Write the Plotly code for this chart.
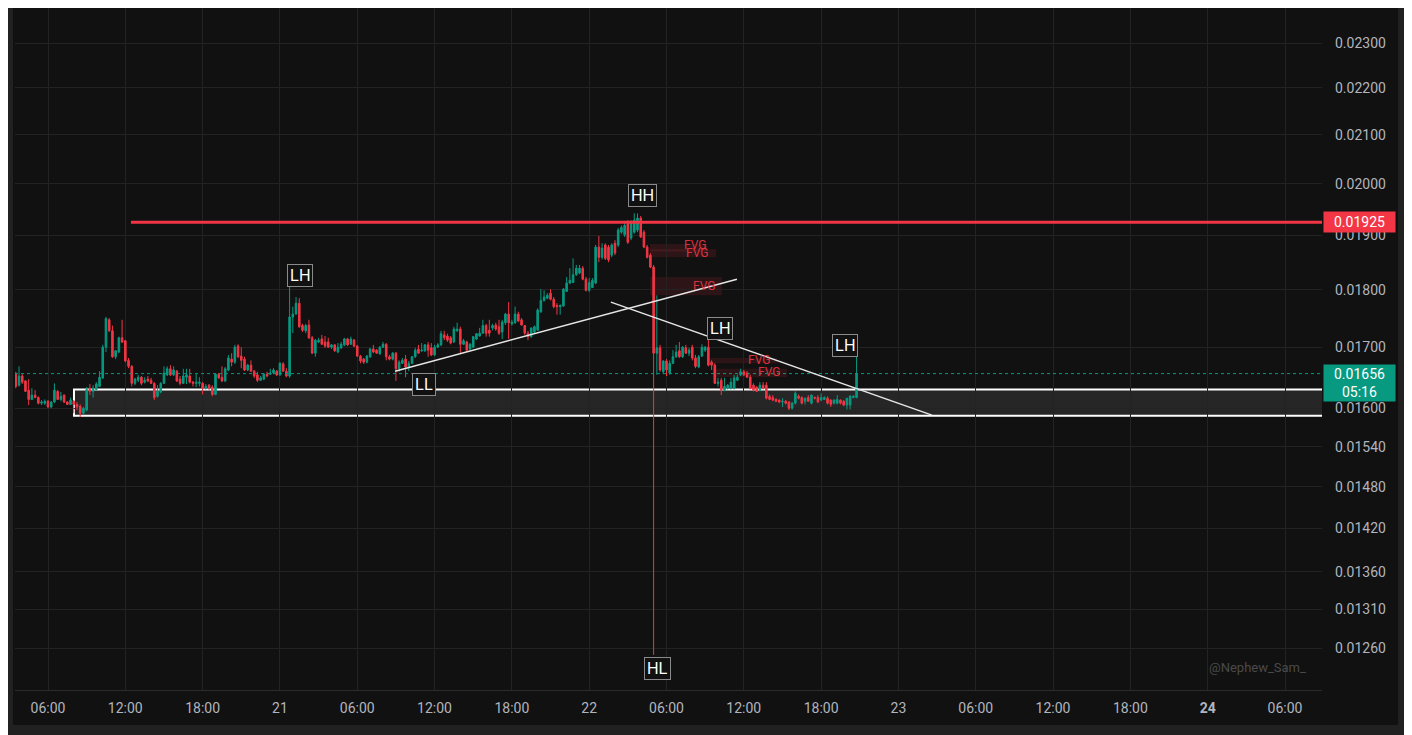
import math
import pandas as pd
import plotly.graph_objects as go

# 15 minute candles starting 20 Jun 03:30
start_time = "2024-06-20 03:30"

opens = [
    0.01655, 0.01637, 0.01652, 0.01644, 0.01629, 0.01614, 0.01621, 0.01617, 0.01608, 0.01608,
    0.01611, 0.01602, 0.01610, 0.01627, 0.01614, 0.01621, 0.01610, 0.01606, 0.01611, 0.01606,
    0.01603, 0.01592, 0.01597, 0.01632, 0.01627, 0.01630, 0.01635, 0.01649, 0.01700, 0.01747,
    0.01728, 0.01684, 0.01692, 0.01716, 0.01711, 0.01678, 0.01668, 0.01640, 0.01645, 0.01650,
    0.01642, 0.01647, 0.01645, 0.01640, 0.01619, 0.01626, 0.01640, 0.01654, 0.01664, 0.01654,
    0.01660, 0.01647, 0.01640, 0.01650, 0.01652, 0.01642, 0.01640, 0.01640, 0.01640, 0.01632,
    0.01637, 0.01634, 0.01622, 0.01655, 0.01650, 0.01644, 0.01662, 0.01680, 0.01675, 0.01702,
    0.01685, 0.01680, 0.01662, 0.01670, 0.01660, 0.01654, 0.01645, 0.01647, 0.01655, 0.01655,
    0.01657, 0.01660, 0.01654, 0.01672, 0.01660, 0.01652, 0.01752, 0.01757, 0.01776, 0.01737,
    0.01728, 0.01738, 0.01716, 0.01690, 0.01709, 0.01714, 0.01709, 0.01709, 0.01700, 0.01704,
    0.01692, 0.01699, 0.01704, 0.01714, 0.01705, 0.01712, 0.01702, 0.01685, 0.01680, 0.01675,
    0.01684, 0.01697, 0.01695, 0.01689, 0.01700, 0.01705, 0.01684, 0.01680, 0.01690, 0.01664,
    0.01673, 0.01680, 0.01667, 0.01673, 0.01684, 0.01697, 0.01694, 0.01694, 0.01704, 0.01699,
    0.01687, 0.01700, 0.01704, 0.01721, 0.01719, 0.01716, 0.01709, 0.01728, 0.01731, 0.01705,
    0.01709, 0.01697, 0.01700, 0.01714, 0.01719, 0.01724, 0.01737, 0.01729, 0.01733, 0.01738,
    0.01735, 0.01726, 0.01742, 0.01757, 0.01740, 0.01742, 0.01757, 0.01747, 0.01737, 0.01724,
    0.01718, 0.01726, 0.01729, 0.01761, 0.01781, 0.01785, 0.01794, 0.01783, 0.01772, 0.01770,
    0.01771, 0.01797, 0.01812, 0.01813, 0.01827, 0.01830, 0.01839, 0.01819, 0.01799, 0.01804,
    0.01812, 0.01878, 0.01859, 0.01882, 0.01878, 0.01863, 0.01885, 0.01882, 0.01906, 0.01901,
    0.01923, 0.01895, 0.01906, 0.01910, 0.01933, 0.01906, 0.01878, 0.01863, 0.01841, 0.01690,
    0.01699, 0.01659, 0.01677, 0.01657, 0.01673, 0.01684, 0.01694, 0.01684, 0.01699, 0.01690,
    0.01700, 0.01682, 0.01667, 0.01685, 0.01695, 0.01700, 0.01675, 0.01670, 0.01640, 0.01645,
    0.01629, 0.01632, 0.01632, 0.01632, 0.01645, 0.01654, 0.01659, 0.01657, 0.01650, 0.01637,
    0.01634, 0.01629, 0.01637, 0.01637, 0.01619, 0.01617, 0.01614, 0.01613, 0.01610, 0.01611,
    0.01610, 0.01600, 0.01608, 0.01619, 0.01617, 0.01611, 0.01617, 0.01608, 0.01617, 0.01617,
    0.01613, 0.01614, 0.01616, 0.01613, 0.01608, 0.01608, 0.01613, 0.01611, 0.01605, 0.01605,
    0.01617, 0.01617,
]
highs = [
    0.01659, 0.01668, 0.01655, 0.01645, 0.01647, 0.01632, 0.01629, 0.01619, 0.01613, 0.01614,
    0.01613, 0.01611, 0.01640, 0.01629, 0.01626, 0.01622, 0.01611, 0.01617, 0.01613, 0.01610,
    0.01606, 0.01602, 0.01634, 0.01639, 0.01637, 0.01642, 0.01660, 0.01704, 0.01752, 0.01750,
    0.01737, 0.01695, 0.01718, 0.01747, 0.01712, 0.01682, 0.01670, 0.01649, 0.01654, 0.01652,
    0.01650, 0.01652, 0.01649, 0.01642, 0.01637, 0.01642, 0.01668, 0.01668, 0.01670, 0.01668,
    0.01662, 0.01652, 0.01664, 0.01664, 0.01664, 0.01644, 0.01655, 0.01650, 0.01642, 0.01639,
    0.01639, 0.01637, 0.01657, 0.01657, 0.01668, 0.01667, 0.01687, 0.01690, 0.01704, 0.01705,
    0.01700, 0.01684, 0.01672, 0.01678, 0.01662, 0.01659, 0.01652, 0.01657, 0.01659, 0.01664,
    0.01665, 0.01662, 0.01675, 0.01675, 0.01665, 0.01810, 0.01770, 0.01787, 0.01785, 0.01740,
    0.01740, 0.01747, 0.01719, 0.01714, 0.01716, 0.01721, 0.01719, 0.01716, 0.01705, 0.01705,
    0.01707, 0.01709, 0.01716, 0.01716, 0.01718, 0.01714, 0.01704, 0.01687, 0.01682, 0.01687,
    0.01699, 0.01704, 0.01697, 0.01702, 0.01709, 0.01707, 0.01687, 0.01692, 0.01692, 0.01678,
    0.01682, 0.01687, 0.01677, 0.01685, 0.01699, 0.01704, 0.01707, 0.01705, 0.01709, 0.01707,
    0.01704, 0.01707, 0.01728, 0.01728, 0.01723, 0.01719, 0.01735, 0.01742, 0.01735, 0.01714,
    0.01711, 0.01707, 0.01719, 0.01724, 0.01733, 0.01747, 0.01740, 0.01747, 0.01740, 0.01742,
    0.01747, 0.01747, 0.01759, 0.01778, 0.01747, 0.01770, 0.01761, 0.01750, 0.01738, 0.01728,
    0.01733, 0.01737, 0.01767, 0.01801, 0.01799, 0.01794, 0.01801, 0.01787, 0.01776, 0.01774,
    0.01803, 0.01823, 0.01839, 0.01857, 0.01845, 0.01845, 0.01843, 0.01823, 0.01821, 0.01821,
    0.01882, 0.01899, 0.01885, 0.01885, 0.01882, 0.01885, 0.01891, 0.01914, 0.01919, 0.01923,
    0.01929, 0.01929, 0.01942, 0.01942, 0.01937, 0.01910, 0.01882, 0.01867, 0.01845, 0.01790,
    0.01704, 0.01678, 0.01680, 0.01678, 0.01695, 0.01704, 0.01709, 0.01702, 0.01704, 0.01699,
    0.01704, 0.01687, 0.01687, 0.01705, 0.01702, 0.01714, 0.01678, 0.01673, 0.01649, 0.01649,
    0.01649, 0.01639, 0.01649, 0.01654, 0.01654, 0.01664, 0.01662, 0.01660, 0.01654, 0.01640,
    0.01635, 0.01642, 0.01642, 0.01642, 0.01622, 0.01621, 0.01616, 0.01614, 0.01616, 0.01613,
    0.01611, 0.01610, 0.01627, 0.01622, 0.01619, 0.01617, 0.01621, 0.01622, 0.01619, 0.01621,
    0.01624, 0.01619, 0.01619, 0.01614, 0.01614, 0.01621, 0.01614, 0.01613, 0.01616, 0.01621,
    0.01621, 0.01685,
]
lows = [
    0.01632, 0.01635, 0.01639, 0.01626, 0.01605, 0.01613, 0.01616, 0.01606, 0.01605, 0.01605,
    0.01600, 0.01600, 0.01608, 0.01613, 0.01611, 0.01608, 0.01605, 0.01605, 0.01592, 0.01597,
    0.01586, 0.01589, 0.01595, 0.01621, 0.01617, 0.01629, 0.01634, 0.01647, 0.01692, 0.01726,
    0.01682, 0.01680, 0.01690, 0.01707, 0.01675, 0.01665, 0.01635, 0.01637, 0.01642, 0.01637,
    0.01640, 0.01642, 0.01639, 0.01613, 0.01617, 0.01624, 0.01639, 0.01652, 0.01652, 0.01652,
    0.01642, 0.01637, 0.01639, 0.01639, 0.01640, 0.01635, 0.01634, 0.01635, 0.01622, 0.01630,
    0.01629, 0.01619, 0.01621, 0.01647, 0.01642, 0.01642, 0.01660, 0.01668, 0.01672, 0.01682,
    0.01665, 0.01660, 0.01660, 0.01659, 0.01649, 0.01642, 0.01644, 0.01645, 0.01650, 0.01654,
    0.01655, 0.01652, 0.01652, 0.01659, 0.01650, 0.01649, 0.01724, 0.01756, 0.01733, 0.01726,
    0.01724, 0.01714, 0.01689, 0.01684, 0.01707, 0.01704, 0.01699, 0.01699, 0.01697, 0.01692,
    0.01690, 0.01697, 0.01702, 0.01702, 0.01704, 0.01700, 0.01684, 0.01673, 0.01672, 0.01673,
    0.01682, 0.01690, 0.01689, 0.01687, 0.01699, 0.01678, 0.01678, 0.01678, 0.01644, 0.01659,
    0.01672, 0.01650, 0.01660, 0.01672, 0.01682, 0.01689, 0.01692, 0.01692, 0.01684, 0.01685,
    0.01685, 0.01699, 0.01702, 0.01712, 0.01709, 0.01705, 0.01707, 0.01726, 0.01690, 0.01704,
    0.01692, 0.01694, 0.01699, 0.01712, 0.01718, 0.01723, 0.01718, 0.01718, 0.01729, 0.01728,
    0.01721, 0.01714, 0.01738, 0.01714, 0.01737, 0.01740, 0.01743, 0.01737, 0.01721, 0.01712,
    0.01716, 0.01724, 0.01728, 0.01759, 0.01779, 0.01783, 0.01781, 0.01767, 0.01756, 0.01756,
    0.01770, 0.01796, 0.01810, 0.01812, 0.01825, 0.01828, 0.01817, 0.01797, 0.01796, 0.01803,
    0.01810, 0.01850, 0.01855, 0.01854, 0.01850, 0.01859, 0.01863, 0.01878, 0.01903, 0.01897,
    0.01884, 0.01891, 0.01903, 0.01906, 0.01895, 0.01876, 0.01857, 0.01839, 0.01252, 0.01654,
    0.01659, 0.01655, 0.01652, 0.01654, 0.01672, 0.01682, 0.01682, 0.01682, 0.01689, 0.01685,
    0.01678, 0.01665, 0.01665, 0.01684, 0.01692, 0.01668, 0.01662, 0.01639, 0.01635, 0.01621,
    0.01627, 0.01630, 0.01630, 0.01630, 0.01644, 0.01652, 0.01652, 0.01649, 0.01630, 0.01627,
    0.01626, 0.01627, 0.01630, 0.01614, 0.01613, 0.01611, 0.01610, 0.01608, 0.01602, 0.01606,
    0.01597, 0.01598, 0.01606, 0.01614, 0.01606, 0.01606, 0.01610, 0.01606, 0.01614, 0.01608,
    0.01611, 0.01613, 0.01606, 0.01602, 0.01606, 0.01606, 0.01606, 0.01603, 0.01598, 0.01598,
    0.01616, 0.01616,
]
closes = [
    0.01635, 0.01652, 0.01642, 0.01627, 0.01614, 0.01621, 0.01617, 0.01608, 0.01610, 0.01611,
    0.01602, 0.01610, 0.01629, 0.01614, 0.01619, 0.01610, 0.01606, 0.01613, 0.01606, 0.01602,
    0.01592, 0.01600, 0.01630, 0.01627, 0.01632, 0.01639, 0.01650, 0.01700, 0.01749, 0.01728,
    0.01684, 0.01694, 0.01716, 0.01709, 0.01677, 0.01668, 0.01640, 0.01647, 0.01650, 0.01640,
    0.01645, 0.01644, 0.01640, 0.01617, 0.01627, 0.01640, 0.01657, 0.01664, 0.01654, 0.01662,
    0.01644, 0.01640, 0.01652, 0.01654, 0.01642, 0.01640, 0.01642, 0.01642, 0.01632, 0.01635,
    0.01632, 0.01622, 0.01655, 0.01649, 0.01644, 0.01664, 0.01682, 0.01675, 0.01700, 0.01684,
    0.01678, 0.01662, 0.01670, 0.01660, 0.01652, 0.01645, 0.01649, 0.01655, 0.01652, 0.01657,
    0.01662, 0.01654, 0.01673, 0.01660, 0.01652, 0.01752, 0.01757, 0.01776, 0.01735, 0.01729,
    0.01737, 0.01716, 0.01690, 0.01712, 0.01712, 0.01705, 0.01702, 0.01700, 0.01704, 0.01694,
    0.01700, 0.01705, 0.01714, 0.01704, 0.01714, 0.01702, 0.01685, 0.01677, 0.01675, 0.01685,
    0.01697, 0.01692, 0.01690, 0.01700, 0.01705, 0.01684, 0.01680, 0.01690, 0.01664, 0.01675,
    0.01678, 0.01667, 0.01673, 0.01684, 0.01695, 0.01690, 0.01695, 0.01704, 0.01695, 0.01687,
    0.01700, 0.01704, 0.01723, 0.01716, 0.01712, 0.01707, 0.01731, 0.01731, 0.01705, 0.01711,
    0.01695, 0.01705, 0.01718, 0.01723, 0.01724, 0.01737, 0.01724, 0.01724, 0.01737, 0.01731,
    0.01724, 0.01743, 0.01757, 0.01742, 0.01743, 0.01757, 0.01745, 0.01738, 0.01724, 0.01718,
    0.01733, 0.01735, 0.01764, 0.01781, 0.01787, 0.01790, 0.01783, 0.01770, 0.01770, 0.01772,
    0.01801, 0.01812, 0.01817, 0.01827, 0.01839, 0.01839, 0.01819, 0.01799, 0.01813, 0.01817,
    0.01878, 0.01859, 0.01876, 0.01857, 0.01854, 0.01882, 0.01867, 0.01910, 0.01915, 0.01919,
    0.01887, 0.01925, 0.01929, 0.01933, 0.01897, 0.01878, 0.01859, 0.01841, 0.01690, 0.01699,
    0.01662, 0.01677, 0.01662, 0.01673, 0.01684, 0.01692, 0.01684, 0.01700, 0.01690, 0.01695,
    0.01682, 0.01668, 0.01684, 0.01700, 0.01700, 0.01670, 0.01670, 0.01640, 0.01642, 0.01629,
    0.01635, 0.01637, 0.01642, 0.01649, 0.01650, 0.01659, 0.01654, 0.01650, 0.01632, 0.01629,
    0.01627, 0.01637, 0.01632, 0.01616, 0.01614, 0.01613, 0.01611, 0.01610, 0.01611, 0.01608,
    0.01600, 0.01608, 0.01624, 0.01616, 0.01608, 0.01616, 0.01611, 0.01621, 0.01616, 0.01610,
    0.01617, 0.01617, 0.01608, 0.01606, 0.01613, 0.01614, 0.01608, 0.01605, 0.01616, 0.01619,
    0.01619, 0.01656,
]

# axis ticks
tick_times = ["2024-06-20 06:00", "2024-06-20 12:00", "2024-06-20 18:00", "2024-06-21 00:00",
              "2024-06-21 06:00", "2024-06-21 12:00", "2024-06-21 18:00", "2024-06-22 00:00",
              "2024-06-22 06:00", "2024-06-22 12:00", "2024-06-22 18:00", "2024-06-23 00:00",
              "2024-06-23 06:00", "2024-06-23 12:00", "2024-06-23 18:00", "2024-06-24 00:00",
              "2024-06-24 06:00"]
tick_labels = ["06:00", "12:00", "18:00", "21", "06:00", "12:00", "18:00", "22",
               "06:00", "12:00", "18:00", "23", "06:00", "12:00", "18:00", "<b>24</b>", "06:00"]
price_ticks = [0.0240, 0.0230, 0.0220, 0.0210, 0.0200, 0.0190, 0.0180, 0.0170,
               0.0160, 0.0154, 0.0148, 0.0142, 0.0136, 0.0131, 0.0126]

# drawings
resistance = 0.01925
last_price = 0.01656
countdown = "05:16"
zone_top, zone_bottom = 0.01630, 0.01588
zone_start = "2024-06-20 08:01"
resistance_start = "2024-06-20 12:26"

trend_x0 = ["2024-06-21 08:56", "2024-06-22 01:41"]
trend_y0 = [0.01660, 0.01778]
trend_x1 = ["2024-06-22 11:28", "2024-06-23 02:36"]
trend_y1 = [0.01819, 0.01589]

fvg_x0 = ["2024-06-22 04:43", "2024-06-22 04:43", "2024-06-22 04:43", "2024-06-22 09:22", "2024-06-22 09:36"]
fvg_x1 = ["2024-06-22 09:08", "2024-06-22 09:50", "2024-06-22 10:18", "2024-06-22 14:34", "2024-06-22 15:21"]
fvg_top = [0.01884, 0.01874, 0.01823, 0.01682, 0.01664]
fvg_bottom = [0.01870, 0.01859, 0.01790, 0.01673, 0.01650]
fvg_label_x = ["2024-06-22 08:12", "2024-06-22 08:22", "2024-06-22 08:54", "2024-06-22 13:10", "2024-06-22 13:57"]
fvg_label_y = [0.01882, 0.01867, 0.01806, 0.01678, 0.01659]

pivot_text = ["LH", "LL", "HH", "HL", "LH", "LH"]
pivot_bar = [85, 118, 193, 198, 215, 261]
pivot_side = ["high", "low", "high", "low", "high", "high"]
pivot_shift = [(10, 9), (28, -4), (5, 18), (4, -14), (12, 10), (-12, 11)]

x_start, x_end = "2024-06-20 03:26:20", "2024-06-24 08:52:17"

GREEN = "#089981"
RED = "#f23645"
BG = "#111111"
GRID = "#232323"
TXT = "#b2b5be"

times = pd.date_range(start_time, periods=len(closes), freq="15min")

fig = go.Figure()
fig.add_trace(go.Candlestick(
    x=times, open=opens, high=highs, low=lows, close=closes,
    increasing=dict(line=dict(color=GREEN, width=1), fillcolor=GREEN),
    decreasing=dict(line=dict(color=RED, width=1), fillcolor=RED),
    showlegend=False, hoverinfo="skip",
))

shapes = []
# demand zone
shapes.append(dict(type="rect", xref="x", yref="y", x0=zone_start, x1="2024-06-26 00:00",
                   y0=zone_bottom, y1=zone_top, line=dict(color="white", width=2),
                   fillcolor="rgba(255,255,255,0.09)", layer="below"))
# fvg boxes
for i in range(len(fvg_x0)):
    shapes.append(dict(type="rect", xref="x", yref="y", x0=fvg_x0[i], x1=fvg_x1[i],
                       y0=fvg_bottom[i], y1=fvg_top[i], line=dict(width=0),
                       fillcolor="rgba(242,54,69,0.13)", layer="below"))
# resistance line
shapes.append(dict(type="line", xref="x", yref="y", x0=resistance_start, x1=x_end,
                   y0=resistance, y1=resistance, line=dict(color=RED, width=3)))
# last price dotted line
shapes.append(dict(type="line", xref="x", yref="y", x0=x_start, x1=x_end,
                   y0=last_price, y1=last_price, line=dict(color=GREEN, width=1, dash="dot")))
# trend lines
for i in range(len(trend_x0)):
    shapes.append(dict(type="line", xref="x", yref="y", x0=trend_x0[i], x1=trend_x1[i],
                       y0=trend_y0[i], y1=trend_y1[i], line=dict(color="#e6e6e6", width=1.5)))
# outer frame strips (outside plot area)
for x0, x1, y0, y1 in [(-0.0115, -0.0015, -0.07, 1.02), (1.0582, 1.07, -0.07, 1.02),
                       (-0.0115, 1.07, -0.07, -0.0513)]:
    shapes.append(dict(type="rect", xref="paper", yref="paper", x0=x0, x1=x1, y0=y0, y1=y1,
                       line=dict(width=0), fillcolor="#212121", layer="above"))

annotations = []
for i in range(len(fvg_label_x)):
    annotations.append(dict(x=fvg_label_x[i], y=math.log10(fvg_label_y[i]), xref="x", yref="y",
                            text="FVG", showarrow=False,
                            font=dict(family="Roboto, sans-serif", size=12, color="rgba(242,54,69,0.9)")))
for t, b, side, (dx, dy) in zip(pivot_text, pivot_bar, pivot_side, pivot_shift):
    py = highs[b] if side == "high" else lows[b]
    annotations.append(dict(x=times[b], y=math.log10(py), xref="x", yref="y", text=t,
                            showarrow=False, xshift=dx, yshift=dy,
                            font=dict(family="Liberation Sans, Arial, sans-serif", size=16, color="white"),
                            bgcolor=BG, bordercolor="#8a8a8a", borderwidth=1, borderpad=2))
# price scale tags
annotations.append(dict(x=1.0008, xref="paper", xanchor="left", y=math.log10(resistance), yref="y",
                        text=f"{resistance:.5f}", showarrow=False, bgcolor=RED, width=67, height=16,
                        borderpad=2, font=dict(family="Roboto, sans-serif", size=14, color="white")))
annotations.append(dict(x=1.0008, xref="paper", xanchor="left", y=math.log10(last_price), yref="y",
                        yanchor="top", yshift=10, text=f"{last_price:.5f}<br>{countdown}", showarrow=False,
                        bgcolor=GREEN, width=67, height=32, borderpad=2, align="center",
                        font=dict(family="Roboto, sans-serif", size=14, color="white")))
annotations.append(dict(x=0.951, y=0.0323, xref="paper", yref="paper", xanchor="center",
                        yanchor="middle", text="@Nephew_Sam_", showarrow=False,
                        font=dict(family="Roboto, sans-serif", size=13, color="#4a4a4a")))

# page body has an 8px margin, so the figure is 8px smaller and the top is trimmed
fig.update_layout(
    width=1404, height=727,
    margin=dict(l=7, r=90, t=0, b=45),
    paper_bgcolor=BG, plot_bgcolor=BG,
    shapes=shapes, annotations=annotations,
    showlegend=False, hovermode=False, dragmode=False,
    boxgap=0.3,
    font=dict(family="Roboto, sans-serif", color=TXT, size=14),
)
fig.update_xaxes(
    type="date", range=[x_start, x_end], rangeslider_visible=False,
    tickvals=tick_times, ticktext=tick_labels, tickfont=dict(size=14, color=TXT),
    showgrid=True, gridcolor=GRID, gridwidth=1, zeroline=False,
    showline=True, linecolor="#2b2b2b", linewidth=1, ticks="", ticklabelstandoff=5,
)
fig.update_yaxes(
    type="log", side="right",
    range=[math.log10(0.01209), math.log10(0.02382)],
    tickvals=price_ticks, ticktext=[f"{v:.5f}" for v in price_ticks],
    tickfont=dict(size=14, color=TXT),
    showgrid=True, gridcolor=GRID, gridwidth=1, zeroline=False,
    showline=False, ticks="", ticklabelstandoff=12,
)

fig.write_html("out.html")
